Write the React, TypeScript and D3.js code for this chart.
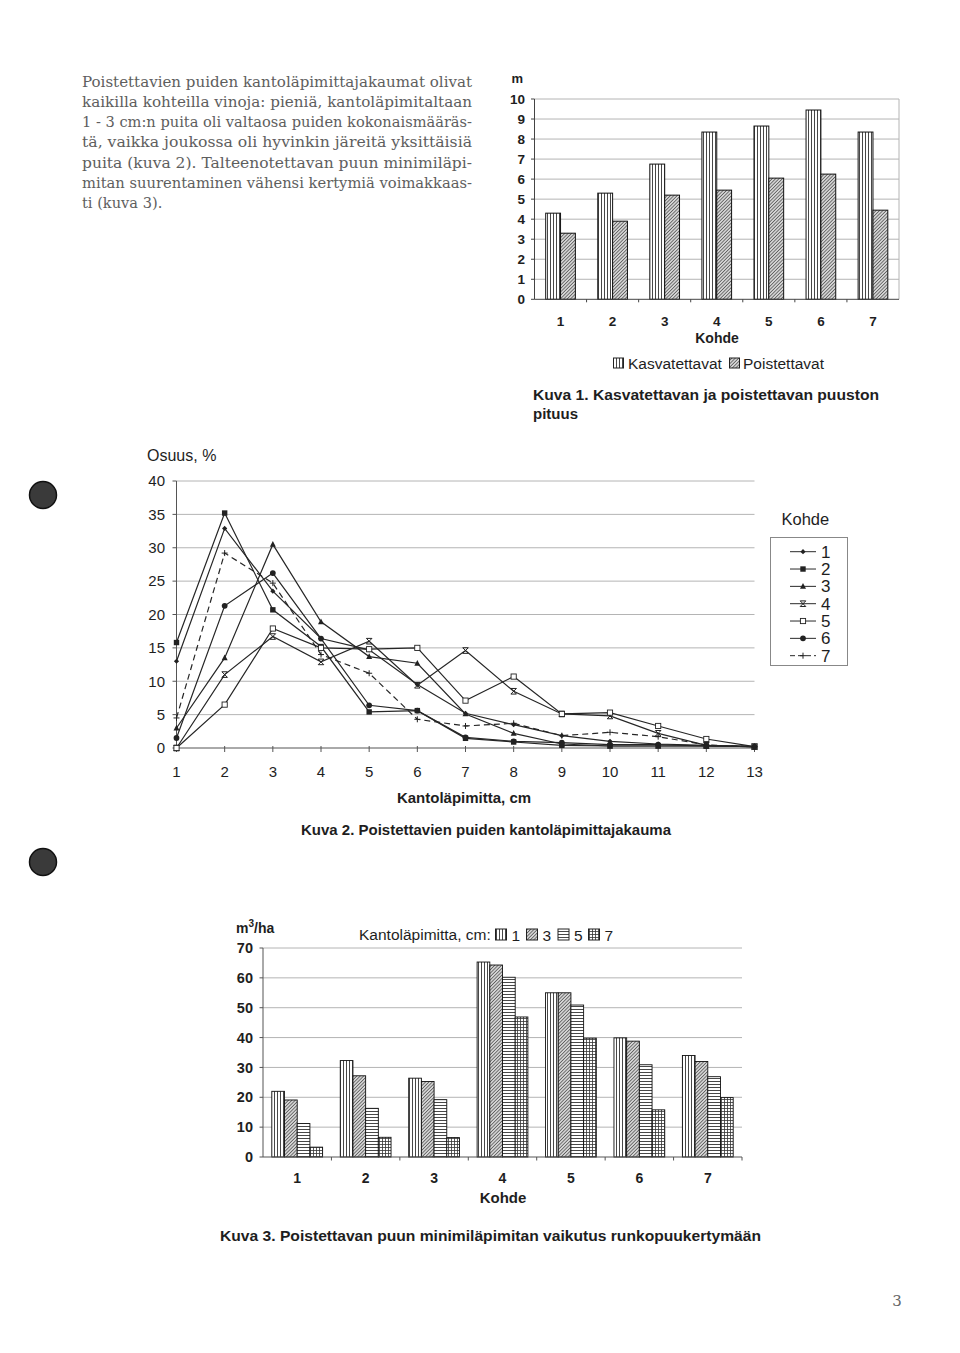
import React from 'react';
import * as d3 from 'd3';

// ---------- Text ----------
const paragraphLines = [
  'Poistettavien puiden kantoläpimittajakaumat olivat',
  'kaikilla kohteilla vinoja: pieniä, kantoläpimitaltaan',
  '1 - 3 cm:n puita oli valtaosa puiden kokonaismääräs-',
  'tä, vaikka joukossa oli hyvinkin järeitä yksittäisiä',
  'puita (kuva 2). Talteenotettavan puun minimiläpi-',
  'mitan suurentaminen vähensi kertymiä voimakkaas-',
  'ti (kuva 3).',
];

// ---------- Kuva 1 ----------
const kohteet1 = ['1', '2', '3', '4', '5', '6', '7'];
const kasvatettavat = [4.3, 5.3, 6.75, 8.35, 8.65, 9.45, 8.35];
const poistettavat = [3.3, 3.9, 5.2, 5.45, 6.05, 6.25, 4.45];
const ticks1 = [0, 1, 2, 3, 4, 5, 6, 7, 8, 9, 10];

// ---------- Kuva 2 ----------
const lapimitat = [1, 2, 3, 4, 5, 6, 7, 8, 9, 10, 11, 12, 13];
const kohde1 = [13.0, 32.9, 23.5, 16.4, 14.7, 9.5, 5.2, 3.5, 1.85, 1.0, 0.6, 0.4, 0.2];
const kohde2 = [15.8, 35.2, 20.7, 15.2, 5.4, 5.6, 1.45, 0.9, 0.4, 0.3, 0.3, 0.3, 0.2];
const kohde3 = [3.0, 13.5, 30.5, 18.9, 13.7, 12.7, 5.1, 2.2, 0.6, 0.3, 0.3, 0.3, 0.2];
const kohde4 = [0, 11.0, 16.7, 12.9, 16.0, 9.4, 14.6, 8.5, 5.1, 4.8, 2.2, 0.4, 0.2];
const kohde5 = [0, 6.5, 17.9, 15.0, 14.8, 15.0, 7.1, 10.7, 5.1, 5.3, 3.3, 1.35, 0.2];
const kohde6 = [1.5, 21.3, 26.2, 16.4, 6.4, 5.6, 1.6, 1.0, 0.8, 0.5, 0.5, 0.3, 0.2];
const kohde7 = [4.5, 29.2, 24.7, 14.0, 11.2, 4.3, 3.3, 3.7, 1.85, 2.35, 1.7, 0.45, 0.2];
const seriesNames2 = ['1', '2', '3', '4', '5', '6', '7'];
const ticks2 = [0, 5, 10, 15, 20, 25, 30, 35, 40];

// ---------- Kuva 3 ----------
const kohteet3 = ['1', '2', '3', '4', '5', '6', '7'];
const min1 = [22.0, 32.3, 26.4, 65.3, 55.0, 39.9, 34.0];
const min3 = [19.1, 27.2, 25.3, 64.3, 55.0, 38.8, 32.0];
const min5 = [11.2, 16.3, 19.2, 60.2, 50.9, 30.9, 26.9];
const min7 = [3.3, 6.6, 6.5, 46.9, 39.8, 15.8, 19.9];
const minNames = ['1', '3', '5', '7'];
const ticks3 = [0, 10, 20, 30, 40, 50, 60, 70];

const SANS = '"Liberation Sans", Arial, sans-serif';
const INK = '#1e1e1e';
const GRID = '#b4b4b4';

function Patterns() {
  return (
    <defs>
      <pattern id="pVert" width="3" height="3" patternUnits="userSpaceOnUse">
        <rect width="3" height="3" fill="#fff" />
        <line x1="1.5" y1="0" x2="1.5" y2="3" stroke="#333" strokeWidth="0.9" />
      </pattern>
      <pattern id="pDiag" width="2.4" height="2.4" patternUnits="userSpaceOnUse" patternTransform="rotate(45)">
        <rect width="2.4" height="2.4" fill="#d4d4d4" />
        <line x1="0" y1="0" x2="0" y2="2.4" stroke="#262626" strokeWidth="1.1" />
      </pattern>
      <pattern id="pHoriz" width="3" height="3" patternUnits="userSpaceOnUse">
        <rect width="3" height="3" fill="#fff" />
        <line x1="0" y1="1.5" x2="3" y2="1.5" stroke="#333" strokeWidth="0.9" />
      </pattern>
      <pattern id="pGrid" width="3" height="3" patternUnits="userSpaceOnUse">
        <rect width="3" height="3" fill="#fff" />
        <line x1="0" y1="1.5" x2="3" y2="1.5" stroke="#333" strokeWidth="0.8" />
        <line x1="1.5" y1="0" x2="1.5" y2="3" stroke="#333" strokeWidth="0.8" />
      </pattern>
    </defs>
  );
}

function Paragraph() {
  return (
    <g fontFamily='"DejaVu Serif", "Liberation Serif", serif' fontSize={14.6} fill="#5e5e5e">
      {paragraphLines.map((t, i) => (
        <text
          key={i}
          x={82}
          y={86.5 + i * 20.3}
          {...(i < paragraphLines.length - 1 ? { textLength: 390, lengthAdjust: 'spacingAndGlyphs' } : {})}
        >
          {t}
        </text>
      ))}
    </g>
  );
}

function Kuva1() {
  const x = d3.scaleBand<string>().domain(kohteet1).range([534.5, 899]).padding(0);
  const y = d3.scaleLinear().domain([0, 10]).range([299.3, 99]);
  const bw = x.bandwidth();
  const barW = bw * 0.285;
  return (
    <g fontFamily={SANS} fill={INK}>
      {ticks1.map((t) => (
        <g key={t}>
          {t > 0 && <line x1={534.5} x2={899} y1={y(t)} y2={y(t)} stroke={GRID} strokeWidth={1} />}
          <line x1={531} x2={534.5} y1={y(t)} y2={y(t)} stroke="#444" />
          <text x={525} y={y(t) + 4.8} fontSize={13.5} fontWeight="bold" textAnchor="end">
            {t}
          </text>
        </g>
      ))}
      <line x1={899} x2={899} y1={y(10)} y2={y(0)} stroke={GRID} />
      {kohteet1.map((k, i) => {
        const c = (x(k) as number) + bw / 2;
        return (
          <g key={k}>
            <rect x={c - barW} y={y(kasvatettavat[i])} width={barW} height={y(0) - y(kasvatettavat[i])} fill="url(#pVert)" stroke="#111" strokeWidth={1} />
            <rect x={c} y={y(poistettavat[i])} width={barW} height={y(0) - y(poistettavat[i])} fill="url(#pDiag)" stroke="#111" strokeWidth={1} />
            <text x={c} y={326} fontSize={13.5} fontWeight="bold" textAnchor="middle">
              {k}
            </text>
          </g>
        );
      })}
      {kohteet1.slice(1).map((k) => (
        <line key={k} x1={x(k)} x2={x(k)} y1={y(0)} y2={y(0) + 3} stroke="#444" />
      ))}
      <line x1={534.5} x2={534.5} y1={y(10)} y2={y(0)} stroke="#444" />
      <line x1={534.5} x2={899} y1={y(0)} y2={y(0)} stroke="#444" />
      <text x={511.5} y={83} fontSize={13} fontWeight="bold">m</text>
      <text x={717} y={343} fontSize={14} fontWeight="bold" textAnchor="middle">Kohde</text>
      <rect x={613.5} y={358} width={10} height={10} fill="url(#pVert)" stroke="#222" />
      <text x={628} y={368.5} fontSize={15.5}>Kasvatettavat</text>
      <rect x={729.5} y={358} width={10} height={10} fill="url(#pDiag)" stroke="#222" />
      <text x={743} y={368.5} fontSize={15.5}>Poistettavat</text>
      <text x={533} y={400} fontSize={15} fontWeight="bold" textLength={346} lengthAdjust="spacingAndGlyphs">
        Kuva 1.  Kasvatettavan ja poistettavan puuston
      </text>
      <text x={533} y={418.5} fontSize={15} fontWeight="bold">pituus</text>
    </g>
  );
}

function Marker({ kind, cx, cy }: { kind: number; cx: number; cy: number }) {
  const s = '#222';
  switch (kind) {
    case 0:
      return <path d={`M${cx},${cy - 2.6}L${cx + 2.6},${cy}L${cx},${cy + 2.6}L${cx - 2.6},${cy}Z`} fill={s} />;
    case 1:
      return <rect x={cx - 2.7} y={cy - 2.7} width={5.4} height={5.4} fill={s} />;
    case 2:
      return <path d={`M${cx},${cy - 3.3}L${cx + 3},${cy + 2.4}L${cx - 3},${cy + 2.4}Z`} fill={s} />;
    case 3:
      return (
        <path
          d={`M${cx - 2.8},${cy - 2.8}L${cx + 2.8},${cy + 2.8}M${cx + 2.8},${cy - 2.8}L${cx - 2.8},${cy + 2.8}M${cx - 2.8},${cy - 2.8}H${cx + 2.8}M${cx - 2.8},${cy + 2.8}H${cx + 2.8}`}
          stroke={s}
          strokeWidth={1}
          fill="none"
        />
      );
    case 4:
      return <rect x={cx - 2.6} y={cy - 2.6} width={5.2} height={5.2} fill="#fff" stroke={s} strokeWidth={0.9} />;
    case 5:
      return <circle cx={cx} cy={cy} r={2.9} fill={s} />;
    default:
      return (
        <path d={`M${cx - 3},${cy}H${cx + 3}M${cx},${cy - 3}V${cy + 3}`} stroke={s} strokeWidth={1} fill="none" />
      );
  }
}

function Kuva2() {
  const x = d3.scaleLinear().domain([1, 13]).range([176.5, 754.5]);
  const y = d3.scaleLinear().domain([0, 40]).range([748, 481]);
  const all = [kohde1, kohde2, kohde3, kohde4, kohde5, kohde6, kohde7];
  const line = d3
    .line<number>()
    .x((_, i) => x(lapimitat[i]))
    .y((d) => y(d));
  const legY = (i: number) => 551.7 + i * 17.33;
  return (
    <g fontFamily={SANS} fill={INK}>
      {ticks2.map((t) => (
        <g key={t}>
          {t > 0 && <line x1={176.5} x2={754.5} y1={y(t)} y2={y(t)} stroke={GRID} />}
          <line x1={172.5} x2={176.5} y1={y(t)} y2={y(t)} stroke="#555" />
          <text x={165} y={y(t) + 5.3} fontSize={15} textAnchor="end">
            {t}
          </text>
        </g>
      ))}
      {lapimitat.map((d) => (
        <g key={d}>
          <line x1={x(d)} x2={x(d)} y1={y(0) - 2} y2={y(0) + 4} stroke="#555" />
          <text x={x(d)} y={777} fontSize={15} textAnchor="middle">
            {d}
          </text>
        </g>
      ))}
      <line x1={176.5} x2={176.5} y1={y(40)} y2={y(0)} stroke="#555" />
      <line x1={176.5} x2={754.5} y1={y(0)} y2={y(0)} stroke="#555" />
      {all.map((vals, si) => (
        <path
          key={si}
          d={line(vals) as string}
          fill="none"
          stroke="#262626"
          strokeWidth={1.2}
          strokeDasharray={si === 6 ? '6,4' : undefined}
        />
      ))}
      {all.map((vals, si) =>
        vals.map((v, i) => <Marker key={si + '-' + i} kind={si} cx={x(lapimitat[i])} cy={y(v)} />)
      )}
      <text x={147} y={461} fontSize={16}>Osuus, %</text>
      <text x={464} y={803} fontSize={15} fontWeight="bold" textAnchor="middle">
        Kantoläpimitta, cm
      </text>
      <text x={486} y={835} fontSize={15} fontWeight="bold" textAnchor="middle">
        Kuva 2.  Poistettavien puiden kantoläpimittajakauma
      </text>
      <text x={781.5} y={524.5} fontSize={16.5}>Kohde</text>
      <rect x={770.5} y={537.5} width={77} height={128} fill="#fff" stroke="#888" />
      {seriesNames2.map((n, i) => (
        <g key={n}>
          <line x1={790} x2={816} y1={legY(i)} y2={legY(i)} stroke="#2a2a2a" strokeDasharray={i === 6 ? '5,3' : undefined} />
          <Marker kind={i} cx={803} cy={legY(i)} />
          <text x={821} y={legY(i) + 6} fontSize={17}>
            {n}
          </text>
        </g>
      ))}
    </g>
  );
}

function Kuva3() {
  const x = d3.scaleBand<string>().domain(kohteet3).range([263, 742]).padding(0);
  const y = d3.scaleLinear().domain([0, 70]).range([1157, 948]);
  const bw = x.bandwidth();
  const groupW = bw * 0.742;
  const sub = d3.scaleBand<string>().domain(minNames).range([0, groupW]).padding(0);
  const vals = [min1, min3, min5, min7];
  const fills = ['url(#pVert)', 'url(#pDiag)', 'url(#pHoriz)', 'url(#pGrid)'];
  const legendX = [495.5, 526.5, 558, 588.5];
  return (
    <g fontFamily={SANS} fill={INK}>
      {ticks3.map((t) => (
        <g key={t}>
          {t > 0 && <line x1={263} x2={742} y1={y(t)} y2={y(t)} stroke={GRID} />}
          <line x1={259.5} x2={263} y1={y(t)} y2={y(t)} stroke="#555" />
          <text x={253} y={y(t) + 5.2} fontSize={14.5} fontWeight="bold" textAnchor="end">
            {t}
          </text>
        </g>
      ))}
      {kohteet3.map((k, i) => {
        const left = (x(k) as number) + (bw - groupW) / 2;
        return (
          <g key={k}>
            {vals.map((vs, j) => (
              <rect
                key={j}
                x={left + (sub(minNames[j]) as number)}
                y={y(vs[i])}
                width={sub.bandwidth()}
                height={y(0) - y(vs[i])}
                fill={fills[j]}
                stroke="#111"
                strokeWidth={0.9}
              />
            ))}
            <text x={(x(k) as number) + bw / 2} y={1183} fontSize={14} fontWeight="bold" textAnchor="middle">
              {k}
            </text>
          </g>
        );
      })}
      {kohteet3.slice(1).concat(['end']).map((k, i) => {
        const xx = 263 + bw * (i + 1);
        return <line key={k} x1={xx} x2={xx} y1={y(0)} y2={y(0) + 3.5} stroke="#555" />;
      })}
      <line x1={263} x2={263} y1={y(70)} y2={y(0)} stroke="#555" />
      <line x1={263} x2={742} y1={y(0)} y2={y(0)} stroke="#555" />
      <text x={236} y={933} fontSize={14} fontWeight="bold">
        m<tspan dy={-6} fontSize={10}>3</tspan>
        <tspan dy={6}>/ha</tspan>
      </text>
      <text x={359} y={940} fontSize={15.5}>Kantoläpimitta, cm:</text>
      {minNames.map((n, j) => (
        <g key={n}>
          <rect x={legendX[j]} y={929} width={11} height={11} fill={fills[j]} stroke="#222" />
          <text x={legendX[j] + 16} y={940.5} fontSize={15.5}>
            {n}
          </text>
        </g>
      ))}
      <text x={503} y={1203} fontSize={15} fontWeight="bold" textAnchor="middle">Kohde</text>
      <text x={220} y={1241} fontSize={15} fontWeight="bold" textLength={541} lengthAdjust="spacingAndGlyphs">
        Kuva 3.  Poistettavan puun minimiläpimitan vaikutus runkopuukertymään
      </text>
    </g>
  );
}

export default function App() {
  return (
    <svg
      width={960}
      height={1353}
      viewBox="0 0 960 1353"
      style={{ position: 'absolute', left: 0, top: 0, background: '#fff' }}
    >
      <Patterns />
      <rect width={960} height={1353} fill="#fff" />
      <Paragraph />
      <circle cx={43} cy={495} r={13.5} fill="#3a3a3a" stroke="#111" strokeWidth={1.5} />
      <circle cx={43} cy={862} r={13.5} fill="#3a3a3a" stroke="#111" strokeWidth={1.5} />
      <Kuva1 />
      <Kuva2 />
      <Kuva3 />
      <text x={897} y={1306} fontFamily='"DejaVu Serif", serif' fontSize={15} fill="#666" textAnchor="middle">
        3
      </text>
    </svg>
  );
}
